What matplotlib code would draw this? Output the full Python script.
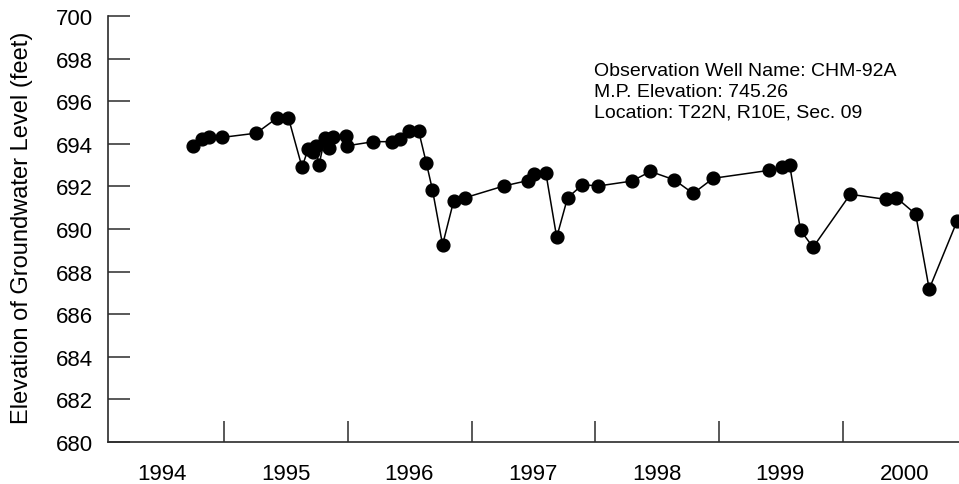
import pandas as pd
import matplotlib
matplotlib.use('Agg')
import matplotlib.pyplot as plt
import matplotlib.dates as mdates

plt.rcParams['font.family'] = ['Liberation Sans', 'DejaVu Sans']

# Measurement dates and groundwater elevations (feet)
dates = [
    '1994-10-01', '1994-10-29', '1994-11-18', '1994-12-26', '1995-04-06',
    '1995-06-05', '1995-07-10', '1995-08-19', '1995-09-06', '1995-09-20',
    '1995-09-28', '1995-10-08', '1995-10-25', '1995-11-07', '1995-11-19',
    '1995-12-27', '1995-12-31', '1996-03-17', '1996-05-10', '1996-06-02',
    '1996-06-30', '1996-07-28', '1996-08-20', '1996-09-07', '1996-10-07',
    '1996-11-09', '1996-12-13', '1997-04-06', '1997-06-15', '1997-07-05',
    '1997-08-08', '1997-09-09', '1997-10-11', '1997-11-24', '1998-01-10',
    '1998-04-19', '1998-06-13', '1998-08-22', '1998-10-17', '1998-12-15',
    '1999-05-28', '1999-07-05', '1999-07-29', '1999-08-30', '1999-10-06',
    '2000-01-24', '2000-05-08', '2000-06-08', '2000-08-04', '2000-09-13',
    '2000-12-04',
]
levels = [
    693.91, 694.23, 694.33, 694.30, 694.50,
    695.20, 695.21, 692.90, 693.76, 693.60,
    693.90, 693.00, 694.25, 693.78, 694.33,
    694.35, 693.91, 694.10, 694.10, 694.23,
    694.59, 694.62, 693.10, 691.85, 689.26,
    691.33, 691.47, 692.02, 692.27, 692.60,
    692.63, 689.61, 691.46, 692.08, 692.02,
    692.25, 692.70, 692.31, 691.67, 692.38,
    692.75, 692.90, 693.00, 689.94, 689.14,
    691.63, 691.39, 691.47, 690.70, 687.18,
    690.36,
]
well_info = ['Observation Well Name: CHM-92A',
             'M.P. Elevation: 745.26',
             'Location: T22N, R10E, Sec. 09']

dt = pd.to_datetime(dates)

fig = plt.figure(figsize=(9.59, 4.85), dpi=100)
ax = fig.add_axes([108 / 959, 42 / 485, 1 - 108 / 959, 426 / 485])

ax.plot(dt, levels, color='black', linewidth=1.1, marker='o',
        markersize=9.2, markerfacecolor='black', markeredgecolor='black')

ax.set_xlim(pd.Timestamp('1994-01-23'), pd.Timestamp('2000-12-10'))
ax.set_ylim(680, 700)

# year boundaries as ticks, year names centred between them
ax.xaxis.set_major_locator(mdates.YearLocator())
ax.xaxis.set_major_formatter(plt.NullFormatter())
ax.xaxis.set_minor_locator(mdates.MonthLocator(bymonth=7, bymonthday=1))
ax.xaxis.set_minor_formatter(mdates.DateFormatter('%Y'))
ax.set_yticks(range(680, 701, 2))

edge = '#2b2b2b'
for side in ['top', 'right']:
    ax.spines[side].set_visible(False)
for side in ['left', 'bottom']:
    ax.spines[side].set_color(edge)
    ax.spines[side].set_linewidth(1.2)

ax.tick_params(axis='x', which='major', direction='in', length=15,
               width=1.1, color=edge)
ax.tick_params(axis='x', which='minor', length=0, pad=15, labelsize=16)
ax.tick_params(axis='y', direction='in', length=16, width=1.1, color=edge,
               pad=11, labelsize=16)

ax.set_ylabel('Elevation of Groundwater Level (feet)', fontsize=17)
ax.yaxis.set_label_coords(-0.088, 0.505)

ax.text(0.571, 0.893, '\n'.join(well_info), transform=ax.transAxes,
        fontsize=14, va='top', ha='left', linespacing=1.32)

fig.savefig('out.png', dpi=100)
